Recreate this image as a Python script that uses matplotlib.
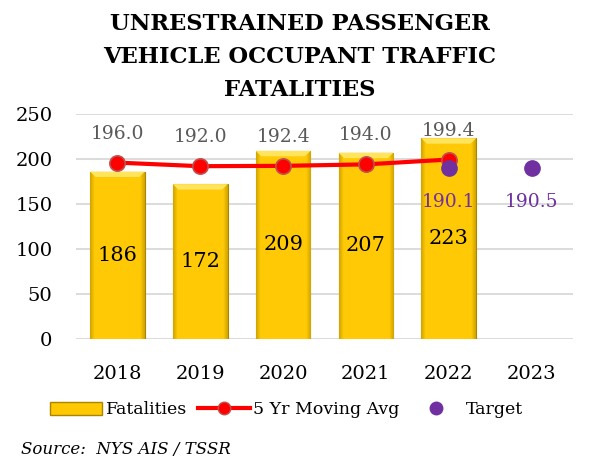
import numpy as np
import matplotlib.pyplot as plt
from matplotlib.lines import Line2D
from matplotlib.patches import Patch

plt.rcParams['font.family'] = ['DejaVu Serif']

years = ['2018', '2019', '2020', '2021', '2022', '2023']
fatalities = [186, 172, 209, 207, 223]
moving_avg = [196.0, 192.0, 192.4, 194.0, 199.4]
target_idx = [4, 5]
target_vals = [190.1, 190.5]

W, H = 603, 462
fig = plt.figure(figsize=(W / 100, H / 100), dpi=100)
ax = fig.add_axes([76 / W, 1 - 339 / H, 497 / W, 225 / H])

x = np.arange(len(years))
bar_x = x[:len(fatalities)]
bars = ax.bar(bar_x, fatalities, width=0.66, color='#FFC800',
              edgecolor='#A88600', linewidth=0.8, zorder=2)

# horizontal gradient to mimic the bevelled gold bars
grad = np.linspace(0, 1, 200)
shade = np.clip(np.minimum(grad, 1 - grad) * 12, 0, 1)
c_edge = np.array([0.82, 0.64, 0.0])
c_mid = np.array([1.0, 0.79, 0.02])
img = (c_edge[None, :] * (1 - shade[:, None]) + c_mid[None, :] * shade[:, None])[None, :, :]
for b in bars:
    bx, by = b.get_x(), b.get_y()
    bw, bh = b.get_width(), b.get_height()
    im = ax.imshow(img, extent=[bx, bx + bw, by, by + bh], aspect='auto', zorder=2.1)
    im.set_clip_path(b)
    # light top bevel
    ax.fill([bx, bx + bw, bx + bw * 0.9, bx + bw * 0.1],
            [by + bh, by + bh, by + bh - 6, by + bh - 6],
            color='#FFE45C', zorder=2.2, lw=0)
    ax.text(bx + bw / 2, bh / 2, str(int(bh)), ha='center', va='center',
            fontsize=15, color='black', zorder=5)

ax.plot(bar_x, moving_avg, color='#FF0000', lw=3, marker='o', ms=11,
        mfc='#FF0000', mec='#C0504D', mew=1.2, zorder=3)
for xi, v in zip(bar_x, moving_avg):
    ax.annotate(f'{v:.1f}', (xi, v), xytext=(0, 29), textcoords='offset pixels',
                ha='center', va='center', fontsize=13.5, color='#595959')

ax.plot(x[target_idx], target_vals, ls='none', marker='o', ms=11,
        color='#7030A0', zorder=4)
for xi, v in zip(x[target_idx], target_vals):
    ax.annotate(f'{v:.1f}', (xi, v), xytext=(0, -34), textcoords='offset pixels',
                ha='center', va='center', fontsize=13.5, color='#7030A0')

ax.set_xlim(-0.5, len(years) - 0.5)
ax.set_ylim(0, 250)
ax.set_yticks(range(0, 251, 50))
ax.set_xticks(x)
ax.set_xticklabels(years)
ax.tick_params(axis='both', length=0, labelsize=14)
ax.tick_params(axis='x', pad=19)
ax.tick_params(axis='y', pad=17)
ax.grid(axis='y', color='#D9D9D9', lw=1.3, zorder=0)
ax.set_axisbelow(True)
for s in ax.spines.values():
    s.set_visible(False)

fig.text(0.497, 1 - 57 / H, 'UNRESTRAINED PASSENGER\nVEHICLE OCCUPANT TRAFFIC\nFATALITIES',
         ha='center', va='center', fontsize=16.3, fontweight='bold', linespacing=1.65)

handles = [Patch(facecolor='#FFC800', edgecolor='#A88600'),
           Line2D([], [], color='#FF0000', lw=3, marker='o', ms=9,
                  mfc='#FF0000', mec='#C0504D'),
           Line2D([], [], ls='none', marker='o', ms=9, color='#7030A0')]
fig.legend(handles, ['Fatalities', '5 Yr Moving Avg', 'Target'], ncol=3,
           loc='center', bbox_to_anchor=(0.475, 1 - 410 / H), frameon=False,
           fontsize=12.5, handlelength=3.0, columnspacing=0.6, handletextpad=0.2)

fig.text(21 / W, 1 - 449 / H, 'Source:  NYS AIS / TSSR', style='italic',
         fontsize=12, ha='left', va='center')

fig.savefig('out.png', dpi=100)
